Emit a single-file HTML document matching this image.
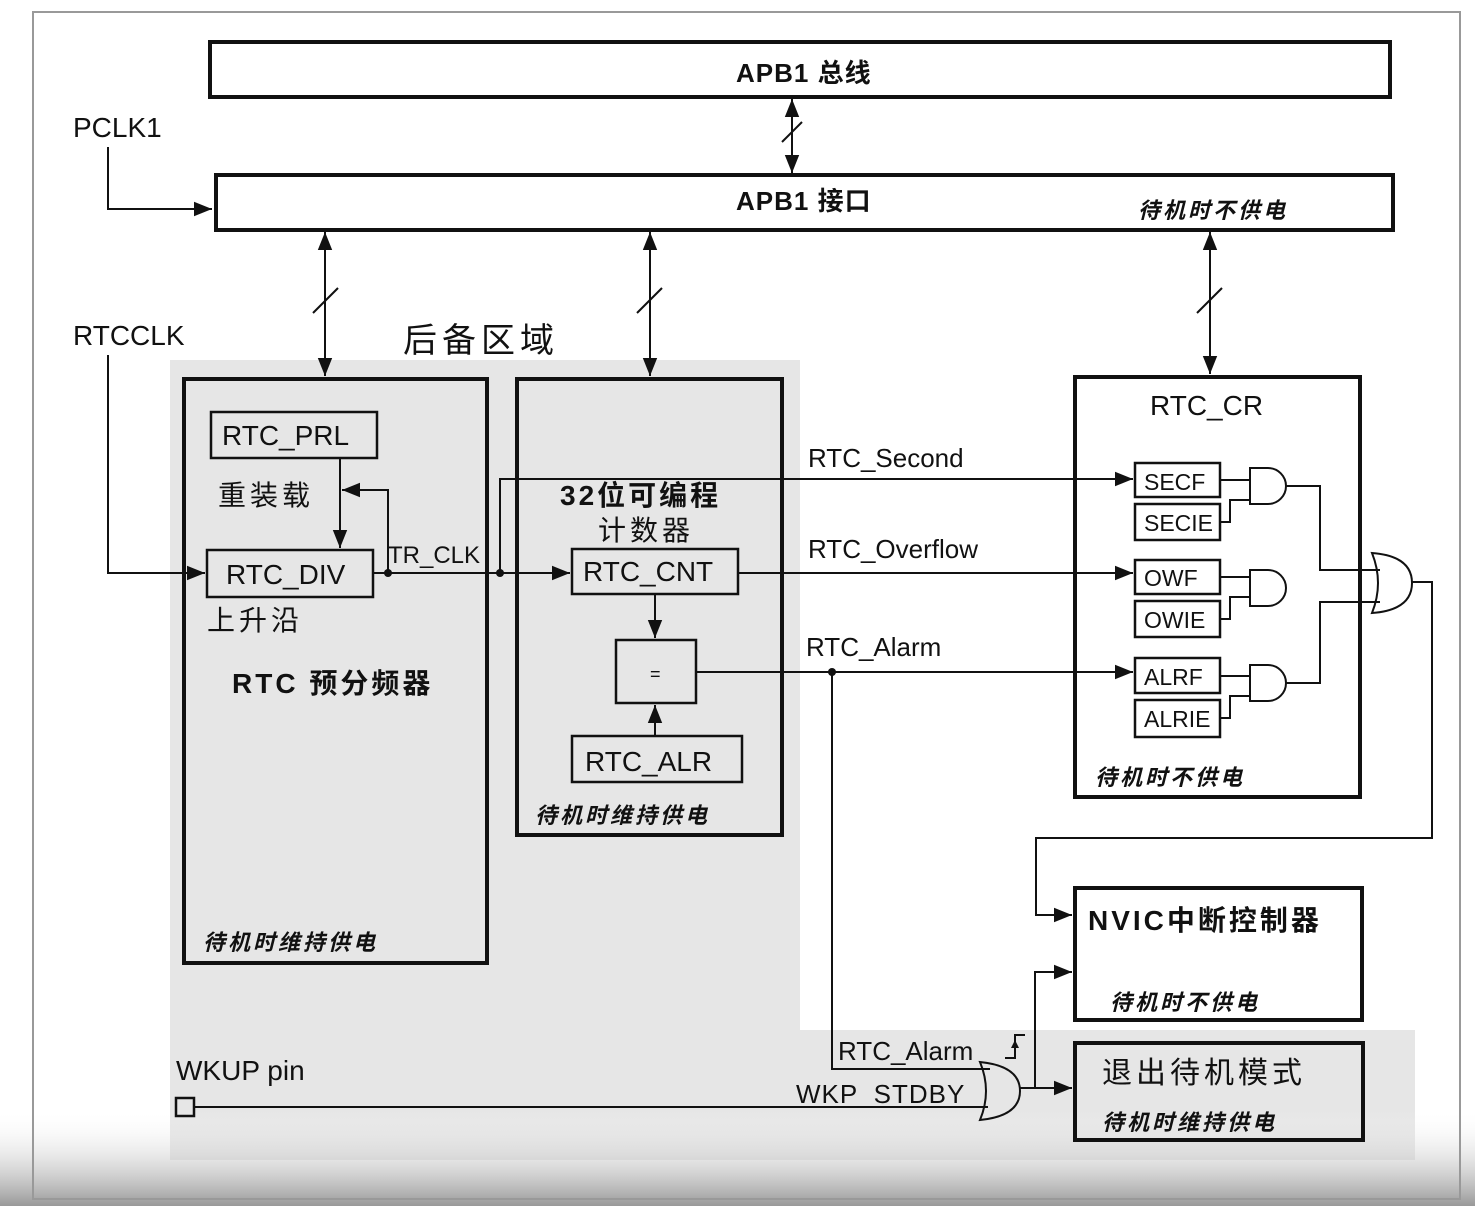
<!DOCTYPE html>
<html><head><meta charset="utf-8"><style>
html,body{margin:0;padding:0;background:#fff}
svg{display:block}
text{font-family:"Liberation Sans","Noto Sans CJK SC",sans-serif;fill:#111}
.it{font-style:italic;font-weight:bold;font-size:22px;letter-spacing:3px}
</style></head><body>
<svg width="1475" height="1206" viewBox="0 0 1475 1206" xmlns="http://www.w3.org/2000/svg">
<defs>
<marker id="a" viewBox="0 0 10 10" refX="10" refY="5" markerWidth="8" markerHeight="8" markerUnits="userSpaceOnUse" orient="auto-start-reverse"><path d="M0,0L10,5L0,10z" fill="#111"/></marker>
<marker id="b" viewBox="0 0 10 10" refX="10" refY="5" markerWidth="18" markerHeight="18" markerUnits="userSpaceOnUse" orient="auto-start-reverse"><path d="M0,1L10,5L0,9z" fill="#111"/></marker>
<linearGradient id="g" x1="0" y1="0" x2="0" y2="1"><stop offset="0" stop-color="#fff" stop-opacity="0"/><stop offset="1" stop-color="#999"/></linearGradient>
</defs>
<rect width="1475" height="1206" fill="#fff"/>
<path d="M170,360H800V1030H1415V1160H170Z" fill="#e6e6e6"/>
<rect x="0" y="1110" width="1475" height="96" fill="url(#g)"/>
<rect x="33" y="12" width="1427" height="1187" fill="none" stroke="#999" stroke-width="2"/>
<g stroke="#111" fill="none">
<rect x="210" y="42" width="1180" height="55" stroke-width="4" fill="#fff"/>
<rect x="216" y="175" width="1177" height="55" stroke-width="4" fill="#fff"/>
<g stroke-width="2">
<path d="M792,99V173" marker-start="url(#b)" marker-end="url(#b)"/>
<path d="M782,142L802,122"/>
<path d="M325,232V376" marker-start="url(#b)" marker-end="url(#b)"/>
<path d="M313,313L338,288"/>
<path d="M650,232V376" marker-start="url(#b)" marker-end="url(#b)"/>
<path d="M637,313L662,288"/>
<path d="M1210,232V374" marker-start="url(#b)" marker-end="url(#b)"/>
<path d="M1197,313L1222,288"/>
<path d="M108,147V209H212" marker-end="url(#b)"/>
<path d="M108,355V573H205" marker-end="url(#b)"/>
</g>
<rect x="184" y="379" width="303" height="584" stroke-width="4"/>
<rect x="517" y="379" width="265" height="456" stroke-width="4"/>
<rect x="1075" y="377" width="285" height="420" stroke-width="4" fill="#fff"/>
<rect x="1075" y="888" width="287" height="132" stroke-width="4" fill="#fff"/>
<rect x="1075" y="1043" width="288" height="97" stroke-width="4"/>
<g stroke-width="2.5">
<rect x="211" y="412" width="166" height="46"/>
<rect x="207" y="550" width="166" height="47"/>
<rect x="572" y="549" width="166" height="45"/>
<rect x="616" y="640" width="80" height="63"/>
<rect x="572" y="736" width="170" height="46"/>
<rect x="1135" y="463" width="85" height="34"/>
<rect x="1135" y="504" width="85" height="36"/>
<rect x="1135" y="560" width="85" height="34"/>
<rect x="1135" y="601" width="85" height="36"/>
<rect x="1135" y="658" width="85" height="35"/>
<rect x="1135" y="700" width="85" height="37"/>
<rect x="176" y="1098" width="18" height="18"/>
</g>
<g stroke-width="2">
<path d="M340,458V548" marker-end="url(#b)"/>
<path d="M388,573V490H342" marker-end="url(#b)"/>
<path d="M373,573H570" marker-end="url(#b)"/>
<path d="M500,573V479H1133" marker-end="url(#b)"/>
<path d="M738,573H1133" marker-end="url(#b)"/>
<path d="M696,672H1133" marker-end="url(#b)"/>
<path d="M655,594V638" marker-end="url(#b)"/>
<path d="M655,736V705" marker-end="url(#b)"/>
<path d="M832,672V1069H990"/>
<path d="M194,1107H988"/>
<path d="M1220,480H1250M1220,522H1230V500H1250"/>
<path d="M1250,468H1268A18,18 0 0 1 1268,504H1250Z"/>
<path d="M1220,577H1250M1220,619H1230V597H1250"/>
<path d="M1250,570H1268A18,18 0 0 1 1268,606H1250Z"/>
<path d="M1220,676H1250M1220,718H1230V696H1250"/>
<path d="M1250,665H1268A18,18 0 0 1 1268,701H1250Z"/>
<path d="M1286,486H1320V570H1380M1286,683H1320V602H1380"/>
<path d="M1372,553Q1412,556 1412,583Q1412,610 1372,613Q1384,583 1372,553Z"/>
<path d="M1412,582H1432V838H1036V915H1072" marker-end="url(#b)"/>
<path d="M980,1062Q1020,1066 1020,1091Q1020,1116 980,1120Q992,1091 980,1062Z"/>
<path d="M1020,1088H1072" marker-end="url(#b)"/>
<path d="M1035,1088V972H1072" marker-end="url(#b)"/>
<path d="M1005,1058H1015V1035H1025"/>
<path d="M1015,1050V1040" marker-end="url(#a)"/>
</g>
</g>
<g fill="#111">
<circle cx="388" cy="573" r="4"/><circle cx="500" cy="573" r="4"/><circle cx="832" cy="672" r="4"/>
</g>
<text x="736" y="82" font-size="26" font-weight="bold" letter-spacing="1">APB1 总线</text>
<text x="736" y="210" font-size="26" font-weight="bold" letter-spacing="1">APB1 接口</text>
<text x="1138" y="218" class="it">待机时不供电</text>
<text x="73" y="137" font-size="28">PCLK1</text>
<text x="73" y="345" font-size="28">RTCCLK</text>
<text x="403" y="352" font-size="34" letter-spacing="5">后备区域</text>
<text x="222" y="445" font-size="28">RTC_PRL</text>
<text x="218" y="505" font-size="28" letter-spacing="4">重装载</text>
<text x="226" y="584" font-size="28">RTC_DIV</text>
<text x="388" y="563" font-size="24">TR_CLK</text>
<text x="207" y="630" font-size="28" letter-spacing="4">上升沿</text>
<text x="232" y="693" font-size="28" font-weight="bold" letter-spacing="3">RTC 预分频器</text>
<text x="203" y="950" class="it">待机时维持供电</text>
<text x="560" y="505" font-size="28" font-weight="bold" letter-spacing="3">32位可编程</text>
<text x="598" y="540" font-size="28" letter-spacing="4">计数器</text>
<text x="583" y="581" font-size="28">RTC_CNT</text>
<text x="650" y="680" font-size="18">=</text>
<text x="585" y="771" font-size="28">RTC_ALR</text>
<text x="535" y="823" class="it">待机时维持供电</text>
<text x="808" y="467" font-size="26">RTC_Second</text>
<text x="808" y="558" font-size="26">RTC_Overflow</text>
<text x="806" y="656" font-size="26">RTC_Alarm</text>
<text x="1150" y="415" font-size="28">RTC_CR</text>
<text x="1144" y="490" font-size="23">SECF</text>
<text x="1144" y="531" font-size="23">SECIE</text>
<text x="1144" y="586" font-size="23">OWF</text>
<text x="1144" y="628" font-size="23">OWIE</text>
<text x="1144" y="685" font-size="23">ALRF</text>
<text x="1144" y="727" font-size="23">ALRIE</text>
<text x="1095" y="785" class="it">待机时不供电</text>
<text x="1088" y="930" font-size="28" font-weight="bold" letter-spacing="3">NVIC中断控制器</text>
<text x="1110" y="1010" class="it">待机时不供电</text>
<text x="1102" y="1083" font-size="30" letter-spacing="4">退出待机模式</text>
<text x="1102" y="1130" class="it">待机时维持供电</text>
<text x="838" y="1060" font-size="26">RTC_Alarm</text>
<text x="796" y="1103" font-size="26" letter-spacing="1">WKP_STDBY</text>
<text x="176" y="1080" font-size="28">WKUP pin</text>
</svg>
</body></html>
